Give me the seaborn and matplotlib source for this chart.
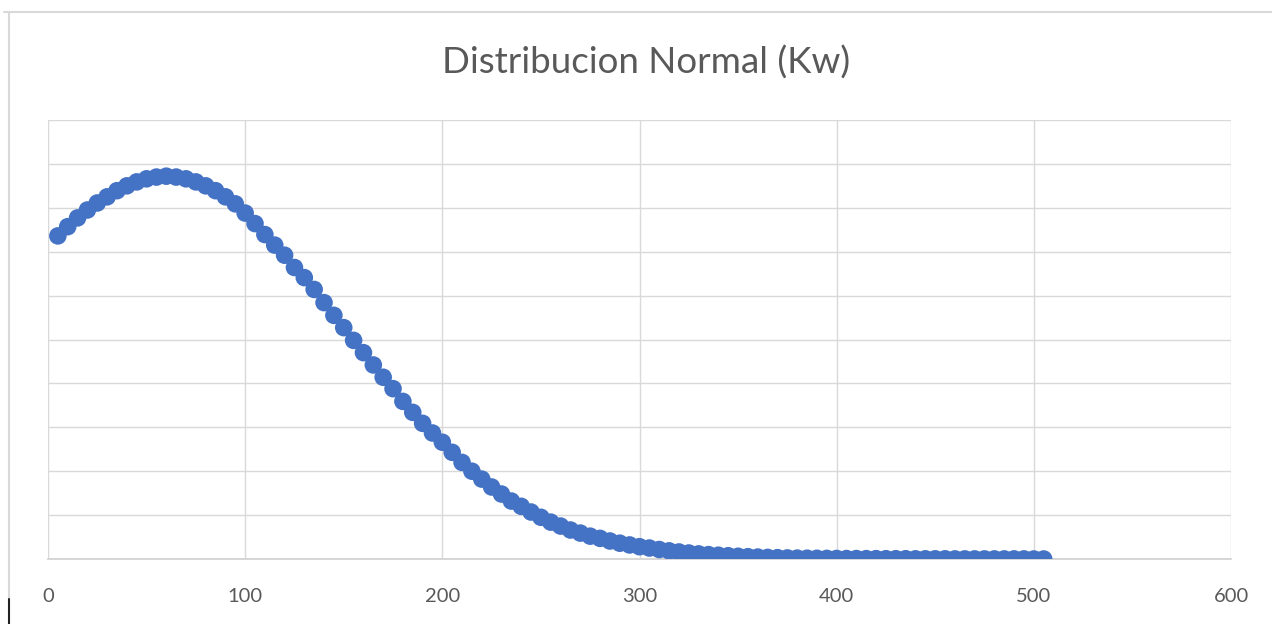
import matplotlib
matplotlib.use("Agg")
import matplotlib.pyplot as plt
from matplotlib.lines import Line2D
import seaborn as sns
import pandas as pd

# X values (Kw) and density values
kw = [5, 10, 15, 20, 25, 30, 35, 40, 45, 50,
      55, 60, 65, 70, 75, 80, 85, 90, 95, 100,
      105, 110, 115, 120, 125, 130, 135, 140, 145, 150,
      155, 160, 165, 170, 175, 180, 185, 190, 195, 200,
      205, 210, 215, 220, 225, 230, 235, 240, 245, 250,
      255, 260, 265, 270, 275, 280, 285, 290, 295, 300,
      305, 310, 315, 320, 325, 330, 335, 340, 345, 350,
      355, 360, 365, 370, 375, 380, 385, 390, 395, 400,
      405, 410, 415, 420, 425, 430, 435, 440, 445, 450,
      455, 460, 465, 470, 475, 480, 485, 490, 495, 500, 505]

density = [0.003680, 0.003785, 0.003885, 0.003975, 0.004055, 0.004125, 0.004195, 0.004250, 0.004295, 0.004330,
           0.004350, 0.004360, 0.004350, 0.004330, 0.004295, 0.004250, 0.004195, 0.004125, 0.004045, 0.003940,
           0.003820, 0.003695, 0.003575, 0.003460, 0.003320, 0.003205, 0.003070, 0.002920, 0.002775, 0.002635,
           0.002490, 0.002350, 0.002210, 0.002070, 0.001940, 0.001795, 0.001670, 0.001545, 0.001435, 0.001330,
           0.001215, 0.001100, 0.001000, 0.000910, 0.000820, 0.000740, 0.000660, 0.000600, 0.000535, 0.000475,
           0.000420, 0.000375, 0.000330, 0.000295, 0.000260, 0.000235, 0.000205, 0.000180, 0.000160, 0.000140,
           0.000125, 0.000108, 0.000093, 0.000080, 0.000068, 0.000058, 0.000050, 0.000043, 0.000037, 0.000031,
           0.000026, 0.000022, 0.000018, 0.000015, 0.000012, 0.000010, 0.000009, 0.000008, 0.000007, 0.000006,
           0.000005, 0.000005, 0.000004, 0.000004, 0.000003, 0.000003, 0.000003, 0.000002, 0.000002, 0.000002,
           0.000002, 0.000001, 0.000001, 0.000001, 0.000001, 0.000001, 0.000001, 0.000001, 0.000001, 0.000000, 0.000000]

x_ticks = [0, 100, 200, 300, 400, 500, 600]
title = "Distribucion Normal (Kw)"

df = pd.DataFrame({"kw": kw, "density": density})

sns.set_theme(style="white")
plt.rcParams["font.family"] = ["Lato", "DejaVu Sans"]

fig = plt.figure(figsize=(12.72, 6.24), dpi=100)
ax = fig.add_axes([48 / 1272, 1 - 559 / 624, (1231 - 48) / 1272, (559 - 120) / 624])

sns.scatterplot(data=df, x="kw", y="density", ax=ax, color="#4472C4",
                s=160, edgecolor="none", linewidth=0, zorder=3, legend=False)

ax.set_xlim(0, 600)
ax.set_ylim(0, 0.005)
ax.set_xticks(x_ticks)
ax.set_xticklabels([str(t) for t in x_ticks], color="#595959", fontsize=14.5)
ax.set_yticks([i * 0.0005 for i in range(11)])
ax.set_yticklabels([])
ax.tick_params(axis="x", length=0, pad=21)
ax.tick_params(axis="y", length=0)
ax.grid(True, color="#d9d9d9", linewidth=1.0)
ax.set_axisbelow(True)
for side in ["top", "right", "left"]:
    ax.spines[side].set_visible(False)
ax.spines["bottom"].set_color("#d0d0d0")
ax.spines["bottom"].set_linewidth(1.2)
ax.set_xlabel("")
ax.set_ylabel("")

fig.text(646 / 1272, 1 - 63 / 624, title, ha="center", va="center",
         fontsize=26.5, color="#595959", fontweight="normal")

# outer chart frame (top and left edges visible)
fig.add_artist(Line2D([4 / 1272, 1], [1 - 12 / 624, 1 - 12 / 624], color="#d9d9d9", lw=1.5,
                      transform=fig.transFigure))
fig.add_artist(Line2D([9 / 1272, 9 / 1272], [1 - 12 / 624, 0.04], color="#d9d9d9", lw=1.5,
                      transform=fig.transFigure))
fig.add_artist(Line2D([9 / 1272, 9 / 1272], [0.04, 0], color="#222222", lw=1.5,
                      transform=fig.transFigure))

fig.savefig("out.png", dpi=100)
